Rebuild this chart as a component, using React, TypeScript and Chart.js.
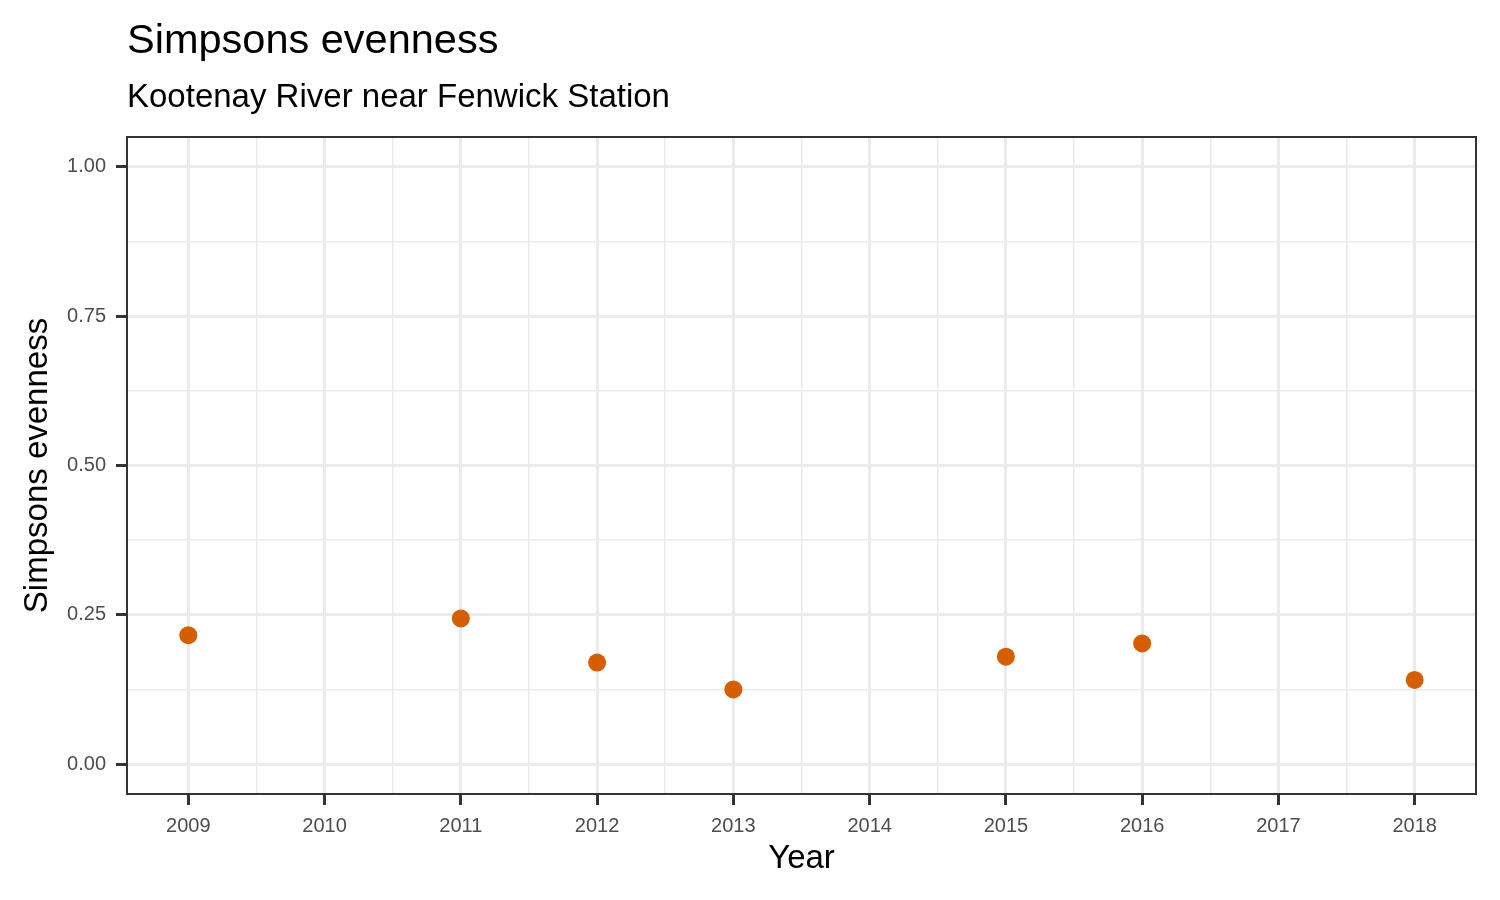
import React, { useEffect, useRef } from "react";
import { Chart, registerables } from "chart.js";

Chart.register(...registerables);

// ---- data ----
const years = [2009, 2011, 2012, 2013, 2015, 2016, 2018];
const evenness = [0.216, 0.244, 0.17, 0.125, 0.18, 0.202, 0.141];

const xMajorTicks = [2009, 2010, 2011, 2012, 2013, 2014, 2015, 2016, 2017, 2018];
const yMajorTicks = [0, 0.25, 0.5, 0.75, 1.0];

const titleText = "Simpsons evenness";
const subtitleText = "Kootenay River near Fenwick Station";
const xTitleText = "Year";
const yTitleText = "Simpsons evenness";

// ---- helpers ----
const midpoints = (arr: number[]) => {
  const out: number[] = [];
  for (let i = 0; i < arr.length - 1; i++) out.push((arr[i] + arr[i + 1]) / 2);
  return out;
};
const xAllTicks = [...xMajorTicks, ...midpoints(xMajorTicks)].sort((a, b) => a - b);
const yAllTicks = [...yMajorTicks, ...midpoints(yMajorTicks)].sort((a, b) => a - b);
const isMajor = (list: number[], v: number) => list.some((m) => Math.abs(m - v) < 1e-9);

const FONT = "'Liberation Sans', Arial, Helvetica, sans-serif";
const GRID = "#EBEBEB";
const DARK = "#333333";

const textPlugin = {
  id: "ggText",
  afterDraw(chart: any) {
    const { ctx, chartArea } = chart;
    ctx.save();
    // panel border
    ctx.strokeStyle = DARK;
    ctx.lineWidth = 2;
    ctx.strokeRect(chartArea.left, chartArea.top, chartArea.right - chartArea.left, chartArea.bottom - chartArea.top);

    ctx.fillStyle = "#000000";
    ctx.textBaseline = "alphabetic";
    ctx.textAlign = "left";
    ctx.font = `41.5px ${FONT}`;
    ctx.fillText(titleText, chartArea.left, 53);
    ctx.font = `33px ${FONT}`;
    ctx.fillText(subtitleText, chartArea.left, 107);

    ctx.textAlign = "center";
    ctx.font = `33px ${FONT}`;
    ctx.fillText(xTitleText, (chartArea.left + chartArea.right) / 2, 868);

    ctx.translate(47, (chartArea.top + chartArea.bottom) / 2);
    ctx.rotate(-Math.PI / 2);
    ctx.fillText(yTitleText, 0, 0);
    ctx.restore();
  },
};

export default function App() {
  const canvasRef = useRef<HTMLCanvasElement | null>(null);

  useEffect(() => {
    document.body.style.margin = "0";
    const canvas = canvasRef.current;
    if (!canvas) return;
    const chart = new Chart(canvas, {
      type: "scatter",
      data: {
        datasets: [
          {
            data: years.map((y, i) => ({ x: y, y: evenness[i] })),
            backgroundColor: "#D55E00",
            borderWidth: 0,
            pointRadius: 9,
            pointHoverRadius: 9,
          },
        ],
      },
      options: {
        animation: false,
        responsive: false,
        devicePixelRatio: 1,
        layout: { padding: { top: 137, right: 24, left: 0, bottom: 0 } },
        plugins: {
          legend: { display: false },
          tooltip: { enabled: false },
          title: { display: false },
        },
        scales: {
          x: {
            type: "linear",
            min: 2008.55,
            max: 2018.45,
            afterBuildTicks: (s: any) => {
              s.ticks = xAllTicks.map((v) => ({ value: v }));
            },
            afterFit: (s: any) => {
              s.height = 106;
            },
            border: { display: false },
            grid: {
              color: GRID,
              lineWidth: (c: any) => (c.tick && isMajor(xMajorTicks, c.tick.value) ? 3 : 1.5),
              tickColor: (c: any) => (c.tick && isMajor(xMajorTicks, c.tick.value) ? DARK : "rgba(0,0,0,0)"),
              tickLength: 11,
              tickWidth: 3,
              drawTicks: true,
            },
            ticks: {
              autoSkip: false,
              maxRotation: 0,
              minRotation: 0,
              padding: 9,
              color: "#4D4D4D",
              font: { family: FONT, size: 20 },
              callback: (v: any) => (isMajor(xMajorTicks, Number(v)) ? String(Math.round(Number(v))) : ""),
            },
          },
          y: {
            type: "linear",
            min: -0.05,
            max: 1.05,
            afterBuildTicks: (s: any) => {
              s.ticks = yAllTicks.map((v) => ({ value: v }));
            },
            afterFit: (s: any) => {
              s.width = 127;
            },
            border: { display: false },
            grid: {
              color: GRID,
              lineWidth: (c: any) => (c.tick && isMajor(yMajorTicks, c.tick.value) ? 3 : 1.5),
              tickColor: (c: any) => (c.tick && isMajor(yMajorTicks, c.tick.value) ? DARK : "rgba(0,0,0,0)"),
              tickLength: 11,
              tickWidth: 3,
              drawTicks: true,
            },
            ticks: {
              autoSkip: false,
              padding: 10,
              color: "#4D4D4D",
              font: { family: FONT, size: 20 },
              callback: (v: any) => (isMajor(yMajorTicks, Number(v)) ? Number(v).toFixed(2) : ""),
            },
          },
        },
      },
      plugins: [textPlugin],
    });
    return () => chart.destroy();
  }, []);

  return (
    <div style={{ position: "absolute", left: 0, top: 0, width: 1500, height: 900, background: "#fff" }}>
      <canvas ref={canvasRef} width={1500} height={900} style={{ width: 1500, height: 900 }} />
    </div>
  );
}
